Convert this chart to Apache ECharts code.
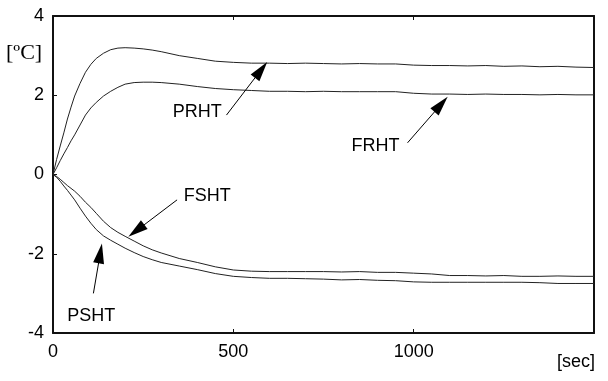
<!DOCTYPE html>
<html><head><meta charset="utf-8">
<script src="https://cdn.jsdelivr.net/npm/echarts@6/dist/echarts.min.js"></script>
<style>html,body{margin:0;padding:0;background:#fff}#c{width:608px;height:381px}</style>
</head><body><div id="c"></div>
<script>
// time [sec]
const time = [0,10,20,30,40,50,60,75,90,105,120,140,160,180,200,225,250,275,300,350,400,450,500,550,600,650,700,750,800,850,900,950,1000,1050,1100,1150,1200,1250,1300,1350,1400,1450,1500];
// temperature differences [ºC]
const PRHT = [0,0.38,0.72,1.05,1.40,1.70,1.98,2.30,2.58,2.78,2.93,3.06,3.15,3.19,3.20,3.19,3.17,3.14,3.10,3.00,2.93,2.86,2.83,2.81,2.81,2.80,2.81,2.80,2.79,2.80,2.79,2.79,2.76,2.75,2.75,2.74,2.75,2.73,2.74,2.72,2.73,2.71,2.70];
const FRHT = [0,0.17,0.35,0.52,0.68,0.85,1.00,1.25,1.50,1.68,1.82,1.98,2.10,2.20,2.28,2.32,2.33,2.33,2.32,2.28,2.22,2.17,2.14,2.12,2.10,2.10,2.09,2.10,2.09,2.09,2.09,2.09,2.05,2.03,2.03,2.02,2.03,2.02,2.02,2.01,2.02,2.01,2.01];
const FSHT = [0,-0.05,-0.12,-0.20,-0.28,-0.35,-0.42,-0.55,-0.70,-0.83,-0.98,-1.18,-1.34,-1.46,-1.56,-1.68,-1.80,-1.90,-1.98,-2.12,-2.22,-2.33,-2.41,-2.44,-2.45,-2.45,-2.45,-2.45,-2.46,-2.45,-2.47,-2.47,-2.49,-2.51,-2.55,-2.55,-2.56,-2.55,-2.57,-2.57,-2.56,-2.57,-2.57];
const PSHT = [0,-0.07,-0.17,-0.29,-0.40,-0.52,-0.64,-0.85,-1.05,-1.23,-1.39,-1.55,-1.66,-1.76,-1.86,-1.97,-2.07,-2.15,-2.22,-2.31,-2.40,-2.50,-2.57,-2.60,-2.62,-2.62,-2.63,-2.64,-2.66,-2.65,-2.67,-2.68,-2.71,-2.72,-2.72,-2.72,-2.72,-2.72,-2.72,-2.73,-2.75,-2.75,-2.75];
// annotation labels and arrows (data coordinates)
const labelNames = ['PRHT','FRHT','FSHT','PSHT'];
const labelPos = [[400,1.57],[894,0.71],[428,-0.54],[106,-3.57]];
const arrowFrom = [[481,1.50],[983,0.80],[344,-0.64],[112,-3.00]];
const arrowTo = [[577,2.64],[1076,1.77],[231,-1.42],[131,-1.99]];
const xTicks = [0,500,1000];

const FONT = '"Liberation Sans", Arial, sans-serif';
const pairs = v => time.map((t,i)=>[t,v[i]]);
const mk = (name, vals, extra) => Object.assign({
  name, type:'line', data: pairs(vals), showSymbol:false, symbol:'none',
  lineStyle:{color:'#222', width:1}, silent:true
}, extra||{});

const chart = echarts.init(document.getElementById('c'), null, {renderer:'canvas'});
chart.setOption({
  animation:false,
  backgroundColor:'#fff',
  grid:{left:53, right:14, top:16, bottom:48},
  xAxis:[{
    type:'value', min:0, max:1500, interval:500, position:'bottom',
    axisLine:{show:true, onZero:false, lineStyle:{color:'#111', width:2}},
    axisTick:{show:true, inside:true, length:4, lineStyle:{color:'#111'}},
    splitLine:{show:false},
    axisLabel:{color:'#000', fontFamily:FONT, fontSize:18, margin:10,
      formatter: v => xTicks.includes(v) ? String(v) : ''}
  },{
    type:'value', min:0, max:1500, interval:500, position:'top',
    axisLine:{show:true, onZero:false, lineStyle:{color:'#111', width:2}},
    axisTick:{show:true, inside:true, length:4, lineStyle:{color:'#111'}},
    splitLine:{show:false}, axisLabel:{show:false}
  }],
  yAxis:[{
    type:'value', min:-4, max:4, interval:2, position:'left',
    axisLine:{show:true, onZero:false, lineStyle:{color:'#111', width:2}},
    axisTick:{show:true, inside:true, length:4, lineStyle:{color:'#111'}},
    splitLine:{show:false},
    axisLabel:{color:'#000', fontFamily:FONT, fontSize:18, margin:9}
  },{
    type:'value', min:-4, max:4, interval:2, position:'right',
    axisLine:{show:true, onZero:false, lineStyle:{color:'#111', width:2}},
    axisTick:{show:false}, splitLine:{show:false}, axisLabel:{show:false}
  }],
  series:[
    mk('PRHT', PRHT, {
      markLine:{
        silent:true, animation:false,
        symbol:['none','triangle'], symbolSize:[11,20],
        lineStyle:{color:'#000', width:1, type:'solid'},
        itemStyle:{color:'#000'},
        label:{show:false},
        data: arrowFrom.map((f,i)=>[{coord:f},{coord:arrowTo[i]}])
      },
      markPoint:{
        silent:true, animation:false,
        symbol:'circle', symbolSize:1, itemStyle:{color:'rgba(0,0,0,0)'},
        label:{show:true, position:'inside', color:'#000', fontFamily:FONT, fontSize:18},
        data: labelNames.map((n,i)=>({coord:labelPos[i], value:n, label:{formatter:n}}))
      }
    }),
    mk('FRHT', FRHT),
    mk('FSHT', FSHT),
    mk('PSHT', PSHT)
  ],
  graphic:[
    {type:'text', left:6, top:42, style:{text:'[ºC]', fill:'#000', font:'22px "Liberation Serif", "Times New Roman", serif'}},
    {type:'text', left:557, top:353, style:{text:'[sec]', fill:'#000', font:'18px ' + FONT}}
  ]
});
</script>
</body></html>
